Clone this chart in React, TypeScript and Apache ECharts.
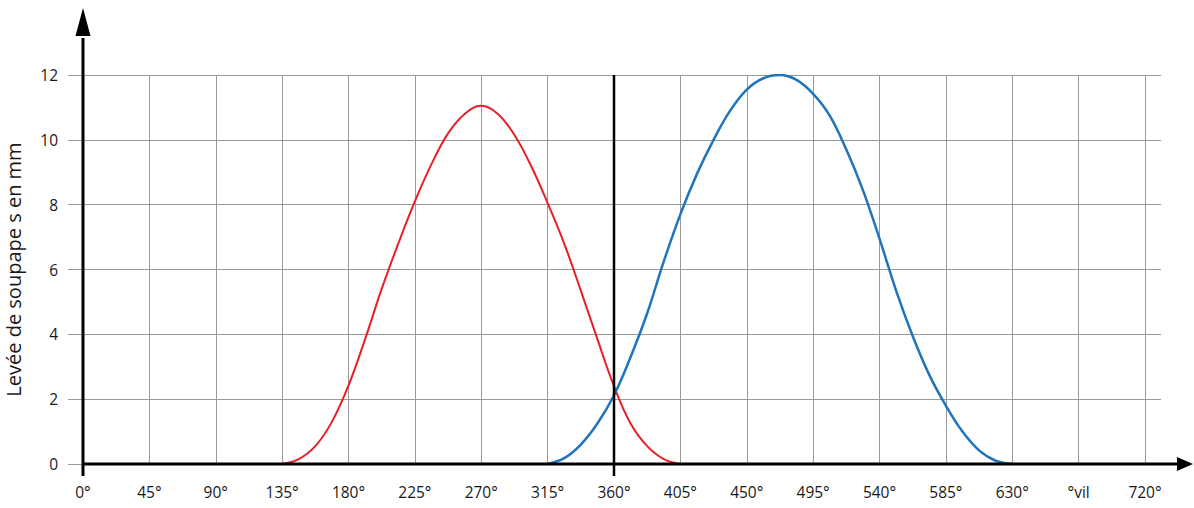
import React, { useEffect, useRef } from "react";
import * as echarts from "echarts";

const xTickLabels = ["0°", "45°", "90°", "135°", "180°", "225°", "270°", "315°", "360°", "405°", "450°", "495°", "540°", "585°", "630°", "°vil", "720°"];
const yTicks = [0, 2, 4, 6, 8, 10, 12];

// Red curve (angle in degrees, lift in mm)
const redAngles = [135, 146.25, 157.5, 168.75, 180, 191.25, 202.5, 213.75, 225, 236.25, 247.5, 258.75, 270, 281.25, 292.5, 303.75, 315, 326.25, 337.5, 348.75, 360, 371.25, 382.5, 393.75, 405];
const redLift = [0, 0.15, 0.55, 1.3, 2.42, 3.85, 5.4, 6.8, 8.1, 9.25, 10.2, 10.8, 11.05, 10.8, 10.15, 9.2, 8.05, 6.8, 5.35, 3.85, 2.4, 1.25, 0.55, 0.15, 0];

// Blue curve
const blueAngles = [315, 326.25, 337.5, 348.75, 360, 371.25, 382.5, 393.75, 405, 416.25, 427.5, 438.75, 450, 461.25, 472.5, 483.75, 495, 506.25, 517.5, 528.75, 540, 551.25, 562.5, 573.75, 585, 596.25, 607.5, 618.75, 630];
const blueLift = [0, 0.18, 0.6, 1.25, 2.12, 3.3, 4.65, 6.25, 7.7, 8.95, 10.0, 10.9, 11.55, 11.9, 12.0, 11.85, 11.42, 10.75, 9.7, 8.45, 6.95, 5.35, 3.95, 2.75, 1.8, 1.0, 0.42, 0.1, 0];

const yName = "Levée de soupape s en mm";
const markAngle = 360;

const FONT = "'Open Sans', 'Noto Sans', sans-serif";
const GRAY = "#9a9a9a";
const TEXT = "#1a1a1a";

export default function App() {
  const ref = useRef<HTMLDivElement>(null);

  useEffect(() => {
    if (!ref.current) return;
    const chart = echarts.init(ref.current, undefined, { renderer: "svg" });
    const W = 1194;
    const option: any = {
      animation: false,
      backgroundColor: "#ffffff",
      grid: { left: 83, right: 49, top: 75, bottom: 44, containLabel: false, outerBoundsMode: "none" },
      xAxis: {
        type: "value",
        min: 0,
        max: 720,
        interval: 45,
        axisLine: { show: false },
        axisTick: { show: false },
        axisLabel: {
          interval: 0,
          margin: 20,
          fontSize: 15.5,
          fontFamily: FONT,
          color: TEXT,
          showMaxLabel: true,
          showMinLabel: true,
          formatter: (v: number) => xTickLabels[Math.round(v / 45)] ?? "",
        },
        splitLine: { show: true, lineStyle: { color: GRAY, width: 1 } },
      },
      yAxis: [
        {
          type: "value",
          min: 0,
          max: 12,
          interval: 2,
          name: yName,
          nameLocation: "middle",
          nameGap: 60,
          nameRotate: 90,
          nameTextStyle: { fontSize: 20, fontFamily: FONT, color: TEXT },
          axisLine: { show: false },
          axisTick: { show: true, length: 15, lineStyle: { color: GRAY, width: 1 } },
          axisLabel: {
            margin: 25,
            fontSize: 15.5,
            fontFamily: FONT,
            color: TEXT,
            formatter: (v: number) => (yTicks.includes(v) ? String(v) : ""),
          },
          splitLine: { show: true, lineStyle: { color: GRAY, width: 1 } },
        },
        {
          type: "value",
          min: 0,
          max: 12,
          interval: 2,
          position: "right",
          axisLine: { show: false },
          axisTick: { show: true, length: 16, lineStyle: { color: GRAY, width: 1 } },
          axisLabel: { show: false },
          splitLine: { show: false },
        },
      ],
      series: [
        {
          type: "line",
          data: redAngles.map((a, i) => [a, redLift[i]]),
          smooth: 0.4,
          showSymbol: false,
          lineStyle: { color: "#e5202b", width: 2 },
          z: 3,
        },
        {
          type: "line",
          data: blueAngles.map((a, i) => [a, blueLift[i]]),
          smooth: 0.4,
          showSymbol: false,
          lineStyle: { color: "#1f74be", width: 2.5 },
          z: 3,
        },
      ],
    };
    chart.setOption(option);

    const p = (x: number, y: number) =>
      chart.convertToPixel({ xAxisIndex: 0, yAxisIndex: 0 }, [x, y]) as number[];
    const o = p(0, 0);
    const m0 = p(markAngle, 0);
    const m1 = p(markAngle, 12);
    const arrowTipY = 8;
    const arrowBaseY = 36;
    const xTip = W - 1;
    const xBase = xTip - 16;

    chart.setOption({
      graphic: [
        {
          type: "line",
          z: 10,
          shape: { x1: o[0], y1: o[1] + 12, x2: o[0], y2: arrowBaseY + 2 },
          style: { stroke: "#000", lineWidth: 3 },
        },
        {
          type: "polygon",
          z: 10,
          shape: { points: [[o[0], arrowTipY], [o[0] - 7.5, arrowBaseY], [o[0] + 7.5, arrowBaseY]] },
          style: { fill: "#000" },
        },
        {
          type: "line",
          z: 10,
          shape: { x1: o[0], y1: o[1], x2: xBase + 2, y2: o[1] },
          style: { stroke: "#000", lineWidth: 3 },
        },
        {
          type: "polygon",
          z: 10,
          shape: { points: [[xTip, o[1]], [xBase, o[1] - 7], [xBase, o[1] + 7]] },
          style: { fill: "#000" },
        },
        {
          type: "line",
          z: 10,
          shape: { x1: m0[0], y1: m1[1], x2: m0[0], y2: m0[1] + 12 },
          style: { stroke: "#000", lineWidth: 2.5 },
        },
      ],
    });

    return () => chart.dispose();
  }, []);

  return (
    <div
      ref={ref}
      style={{ position: "fixed", left: 0, top: 0, width: 1194, height: 508, background: "#fff" }}
    />
  );
}
